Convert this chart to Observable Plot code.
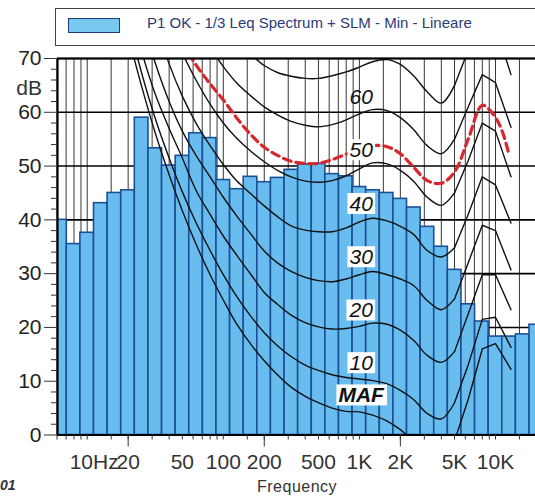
<!DOCTYPE html>
<html>
<head>
<meta charset="utf-8">
<script src="https://cdn.jsdelivr.net/npm/d3@7"></script>
<script src="https://cdn.jsdelivr.net/npm/@observablehq/plot@0.6"></script>
<style>
  body { margin: 0; background: #fff; font-family: "Liberation Sans", Arial, sans-serif; }
  #wrap { position: relative; width: 535px; height: 497px; overflow: hidden; }
  #chart { position: absolute; left: 0; top: 0; }
  #legend { position: absolute; left: 55px; top: 8px; width: 500px; height: 36px; border: 1px solid #444; background: #fff; }
  #swatch { position: absolute; left: 12px; top: 9px; width: 50px; height: 13px; background: #78c8f0; border: 1.5px solid #1d3d78; }
  #legtext { position: absolute; left: 91px; top: 5px; font-size: 15px; color: #2a3a78; white-space: nowrap; }
  #ylab { position: absolute; right: 493px; top: 76px; font-size: 21px; color: #333; }
  #xlab { position: absolute; left: 257px; top: 478px; font-size: 16px; letter-spacing: 0.5px; color: #333; }
  #corner { position: absolute; left: 0px; top: 477px; font-size: 14px; font-weight: bold; font-style: italic; color: #333; }
</style>
</head>
<body>
<div id="wrap">
  <div id="chart"></div>
  <div id="legend"><div id="swatch"></div><div id="legtext">P1 OK - 1/3 Leq Spectrum + SLM - Min - Lineare</div></div>
  <div id="ylab">dB</div>
  <div id="xlab">Frequency</div>
  <div id="corner">01</div>
</div>
<script>
// ---- 1/3 octave spectrum ----
const bandCenters = [6.3, 8, 10, 12.5, 16, 20, 25, 31.5, 40, 50, 63, 80, 100, 125, 160, 200, 250, 315, 400, 500, 630, 800, 1000, 1250, 1600, 2000, 2500, 3150, 4000, 5000, 6300, 8000, 10000, 12500, 16000, 20000];
const bandLevels = [40, 35.5, 37.6, 43.1, 45, 45.5, 59, 53.3, 50.1, 51.9, 56.1, 55.2, 47.4, 45.7, 48, 47, 47.8, 49.3, 50.3, 50.4, 48.5, 48.1, 46.1, 45.5, 45, 43.9, 42.3, 38.7, 35, 30.7, 24.3, 21.1, 18.3, 18.3, 18.7, 20.5];

// ---- equal loudness contours ----
const contourFreqs = [20, 25, 31.5, 40, 50, 63, 80, 100, 125, 160, 200, 250, 315, 400, 500, 630, 800, 1000, 1250, 1600, 2000, 2500, 3150, 4000, 5000, 6300, 8000, 10000, 13000];
const contourMAF = [74.3, 65, 56.3, 48.4, 41.7, 35.5, 29.8, 25.1, 20.7, 16.8, 13.8, 11.2, 8.9, 7.2, 6.0, 5.0, 4.4, 4.3, 3.7, 2.6, 1.0, -1.2, -3.6, -3.9, -1.1, 6.6, 16, 17, 12.2];
const contour10 = [77, 67.5, 59, 51.5, 45.2, 39.5, 34.3, 29.8, 25.8, 22, 19, 16.6, 14.6, 13, 12, 11.2, 10.7, 10.4, 10.1, 9.5, 8.3, 6.6, 4, 3, 6, 13, 21.5, 21.9, 16.3];
const contour20 = [81, 71.5, 63.5, 57, 51.5, 45.5, 41, 37, 33.5, 29.8, 26.5, 24.3, 22.3, 20.9, 20.1, 19.7, 19.8, 20.2, 20.8, 20.6, 19.5, 17.6, 14.8, 13.5, 15.5, 22.5, 29.8, 29.8, 23.3];
const contour30 = [86, 78, 69.3, 62, 56.5, 52, 48, 44.2, 40.8, 37.3, 34.2, 32, 30.4, 29.3, 28.7, 28.5, 29, 29.8, 30.4, 29.8, 29, 27.8, 25, 23.3, 25.3, 32, 39, 38, 30.7];
const contour40 = [92, 85, 77, 69, 63, 58, 53.8, 50.3, 47.3, 44.8, 42.6, 40.6, 38.9, 38.1, 37.8, 37.8, 38.5, 39.6, 40.3, 39.8, 38.8, 37.3, 34.3, 33.1, 34.8, 41, 48, 46.5, 39.4];
const contour50 = [97, 90, 83, 76.5, 71, 66, 61.5, 58, 55.2, 52.7, 50.8, 49.2, 48, 47.2, 47, 47.3, 48.2, 49.5, 50.6, 50.4, 49.2, 47.2, 44.2, 42.7, 45, 51, 58, 56.5, 48];
const contour60 = [102, 96, 90, 84, 79.5, 75.5, 72, 68.5, 65.5, 63, 61, 59.5, 58.3, 57.6, 57.3, 57.7, 58.6, 59.7, 60.5, 60.3, 59, 56.8, 53.8, 52.3, 55, 61, 67, 65.5, 57.2];
const contour70 = [108, 102, 96, 90, 86, 82, 78.5, 75.5, 73, 70.7, 68.7, 67.4, 66.7, 66.3, 66.3, 66.8, 67.5, 68.4, 69.4, 69.8, 68.9, 66.8, 63.8, 61.7, 65, 71.5, 77, 76, 67];

// ---- loudness contour matching the spectrum (red dashed) ----
const redFreqs = [31.5, 40, 50, 63, 80, 100, 125, 160, 200, 250, 315, 400, 500, 630, 800, 1000, 1250, 1600, 2000, 2500, 3150, 4000, 5000, 6300, 8000, 9500, 11000, 12500];
const redLevels = [84, 78, 73, 68.8, 65.3, 62.3, 59, 55.8, 53.5, 52, 50.9, 50.5, 50.5, 51.2, 52.2, 53.1, 53.8, 53.6, 52.3, 49.8, 47.3, 46.8, 48.9, 55, 61.3, 59.8, 57, 52.4];

// ---- curve labels ----
const labelTexts = ["60", "50", "40", "30", "20", "10"];
const labelLevels = [62.7, 52.9, 42.9, 33, 23.1, 13.3];
const mafLabel = ["MAF"];
const mafLevel = [7.3];
const labelFreq = 1030;

// ---- axes ----
const xDomain = [6.05, 19680];
const yDomain = [0, 70];
const xTickValues = [20, 50, 100, 200, 500, 1000, 2000, 5000, 10000];
const xTickLabels = ["20", "50", "100", "200", "500", "1K", "2K", "5K", "10K"];
const xFirstTick = [10];
const xFirstLabel = ["10Hz"];
const xLongTicks = [20, 200, 2000];
const xGrid = [6, 7, 8, 9, 10, 15, 20, 30, 40, 50, 60, 70, 80, 90, 100, 150, 200, 300, 400, 500, 600, 700, 800, 900, 1000, 1500, 2000, 3000, 4000, 5000, 6000, 7000, 8000, 9000, 10000, 15000];
const yMajor = [0, 10, 20, 30, 40, 50, 60, 70];
const yMinor = [2, 4, 6, 8, 12, 14, 16, 18, 22, 24, 26, 28, 32, 34, 36, 38, 42, 44, 46, 48, 52, 54, 56, 58, 62, 64, 66, 68];

// ---- build tables ----
const bars = bandCenters.map((c, i) => {
  const n = Math.round(10 * Math.log10(c));
  return { x1: 10 ** ((n - 0.5) / 10), x2: 10 ** ((n + 0.5) / 10), y: bandLevels[i] };
});
const contourSets = [["MAF", contourMAF], ["10", contour10], ["20", contour20], ["30", contour30], ["40", contour40], ["50", contour50], ["60", contour60], ["70", contour70]];
const contourRows = contourSets.flatMap(([name, vals]) => contourFreqs.map((f, i) => ({ name, f, db: vals[i] })));
const redRows = redFreqs.map((f, i) => ({ f, db: redLevels[i] }));
const labelRows = labelTexts.map((t, i) => ({ t, f: labelFreq, db: labelLevels[i] }));
const mafRows = mafLabel.map((t, i) => ({ t, f: labelFreq, db: mafLevel[i] }));
const xLabelRows = xTickValues.map((v, i) => ({ v, t: xTickLabels[i] }));
const xFirstRows = xFirstTick.map((v, i) => ({ v, t: xFirstLabel[i] }));

const font = "'Liberation Sans', Arial, sans-serif";
const chart = Plot.plot({
  width: 535,
  height: 497,
  marginLeft: 57,
  marginRight: 0,
  marginTop: 58,
  marginBottom: 62.5,
  style: { fontFamily: font, color: "#222", background: "transparent", overflow: "visible" },
  x: { type: "log", domain: xDomain, label: null },
  y: { domain: yDomain, label: null },
  marks: [
    Plot.gridX({ ticks: xGrid, stroke: "#222", strokeOpacity: 0.9, strokeWidth: 1 }),
    Plot.gridY({ ticks: yMajor, stroke: "#000", strokeOpacity: 1, strokeWidth: 1.6 }),
    Plot.rectY(bars, { x1: "x1", x2: "x2", y: "y", fill: "#68bdee", stroke: "#1b4f96", strokeWidth: 1.6, clip: true }),
    Plot.line(contourRows.filter(d => d.f <= 5000), { x: "f", y: "db", z: "name", curve: "catmull-rom", stroke: "#111", strokeWidth: 1.4, clip: true }),
    Plot.line(contourRows.filter(d => d.f >= 5000), { x: "f", y: "db", z: "name", curve: "linear", stroke: "#111", strokeWidth: 1.4, clip: true }),
    Plot.line(redRows, { x: "f", y: "db", curve: "catmull-rom", stroke: "#d7282e", strokeWidth: 3.2, strokeDasharray: "8,5", clip: true }),
    Plot.text(labelRows, { x: "f", y: "db", text: "t", fontSize: 21, fontStyle: "italic", fill: "#111" }),
    Plot.text(mafRows, { x: "f", y: "db", text: "t", fontSize: 21, fontStyle: "italic", fontWeight: "bold", fill: "#111" }),
    Plot.ruleY([yDomain[0], yDomain[1]], { stroke: "#000", strokeWidth: 1.8 }),
    Plot.ruleX([xDomain[0]], { stroke: "#000", strokeWidth: 2.2 }),
    Plot.axisY({ ticks: yMajor, tickSize: 13, tickPadding: 3, fontSize: 21, label: null, stroke: "#333" }),
    Plot.axisY({ ticks: yMinor, tickSize: 6, tickFormat: () => "", label: null, stroke: "#333" }),
    Plot.axisX({ ticks: xGrid, tickSize: 5, tickFormat: () => "", label: null, stroke: "#333" }),
    Plot.axisX({ ticks: xLongTicks, tickSize: 12, tickFormat: () => "", label: null, stroke: "#333" }),
    Plot.text(xLabelRows, { x: "v", frameAnchor: "bottom", text: "t", dy: 27, fontSize: 21, lineAnchor: "middle", fill: "#333" }),
    Plot.text(xFirstRows, { x: "v", frameAnchor: "bottom", text: "t", dy: 27, dx: 7, fontSize: 21, lineAnchor: "middle", fill: "#333", letterSpacing: -0.6 })
  ]
});
document.getElementById("chart").appendChild(chart);

// white boxes behind the contour labels (except the one sitting on white)
chart.querySelectorAll("g").forEach(g => {
  if (g.getAttribute("font-style") !== "italic") return;
  g.querySelectorAll("text").forEach(t => {
    if (t.textContent === "60") return;
    const b = t.getBBox();
    const r = document.createElementNS("http://www.w3.org/2000/svg", "rect");
    r.setAttribute("x", b.x - 2);
    r.setAttribute("y", b.y + 1);
    r.setAttribute("width", b.width + 4);
    r.setAttribute("height", b.height - 2);
    r.setAttribute("fill", "#fff");
    r.setAttribute("stroke", "none");
    if (t.getAttribute("transform")) r.setAttribute("transform", t.getAttribute("transform"));
    g.insertBefore(r, t);
  });
});
</script>
</body>
</html>
